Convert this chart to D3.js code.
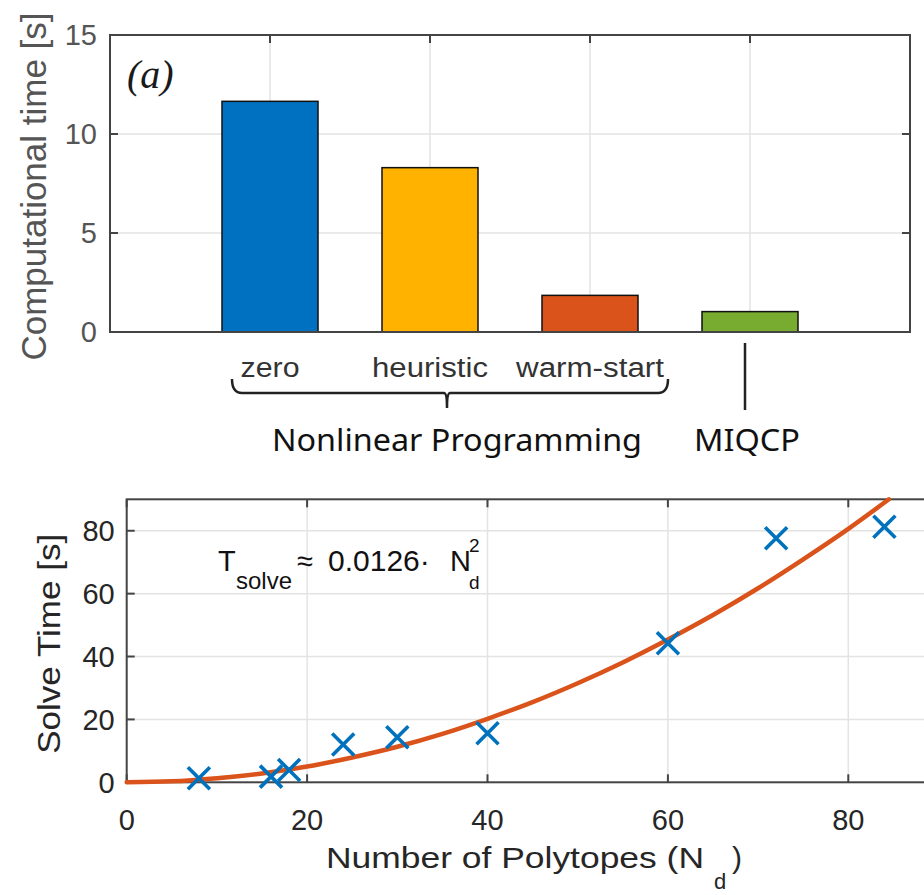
<!DOCTYPE html>
<html><head><meta charset="utf-8">
<script src="https://cdn.jsdelivr.net/npm/d3@7"></script>
<style>body{margin:0;background:#fff}svg{display:block}</style>
</head><body>
<svg id="c" width="924" height="895"></svg>
<script>
// ---- data: panel (a) ----
const categories = ["zero", "heuristic", "warm-start", "MIQCP"];
const compTime = [11.65, 8.3, 1.85, 1.03];
const barColors = ["#0070C0", "#FFB300", "#D9531A", "#77AC30"];
const yTicksTop = [0, 5, 10, 15];
// ---- data: panel (b) ----
const polytopes = [8, 16, 18, 24, 30, 40, 60, 72, 84];
const solveTime = [1.3, 1.8, 3.9, 12.0, 14.3, 15.6, 44.2, 77.6, 81.3];
const fitN = [0, 5, 10, 15, 20, 25, 30, 35, 40, 45, 50, 55, 60, 65, 70, 75, 80, 84.5];
const fitT = [0, 0.3, 1.3, 2.8, 5.0, 7.9, 11.3, 15.4, 20.2, 25.5, 31.5, 38.1, 45.4, 53.2, 61.7, 70.9, 80.6, 90.0];
const xTicksBot = [0, 20, 40, 60, 80];
const yTicksBot = [0, 20, 40, 60, 80];

const svg = d3.select("#c");
const lf = "Liberation Sans, Arial, sans-serif";

// ================= panel (a) =================
const A = {l: 110, r: 910, t: 35, b: 332};
const xa = d3.scaleLinear().domain([0, 5]).range([A.l, A.r]);
const ya = d3.scaleLinear().domain([0, 15]).range([A.b, A.t]);
const ga = svg.append("g");

// grid
ga.selectAll("line.gy").data(yTicksTop.filter(d => d > 0 && d < 15)).join("line")
  .attr("x1", A.l).attr("x2", A.r).attr("y1", d => ya(d)).attr("y2", d => ya(d))
  .attr("stroke", "#e3e3e3").attr("stroke-width", 1.5);
ga.selectAll("line.gx").data(categories).join("line")
  .attr("x1", (d, i) => xa(i + 1)).attr("x2", (d, i) => xa(i + 1))
  .attr("y1", A.t).attr("y2", A.b)
  .attr("stroke", "#e3e3e3").attr("stroke-width", 1.5);

// bars
const bw = xa(0.6) - xa(0);
ga.selectAll("rect.bar").data(compTime).join("rect")
  .attr("x", (d, i) => xa(i + 1) - bw / 2)
  .attr("width", bw)
  .attr("y", d => ya(d))
  .attr("height", d => ya(0) - ya(d))
  .attr("fill", (d, i) => barColors[i])
  .attr("stroke", "#111").attr("stroke-width", 1.5);

// axes box
const axA = ga.append("g").attr("fill", "none").attr("stroke", "#444").attr("stroke-width", 2);
axA.append("rect").attr("x", A.l).attr("y", A.t).attr("width", A.r - A.l).attr("height", A.b - A.t);
yTicksTop.forEach(v => {
  axA.append("line").attr("x1", A.l).attr("x2", A.l + 8).attr("y1", ya(v)).attr("y2", ya(v));
  axA.append("line").attr("x1", A.r).attr("x2", A.r - 8).attr("y1", ya(v)).attr("y2", ya(v));
});
categories.forEach((c, i) => {
  axA.append("line").attr("x1", xa(i + 1)).attr("x2", xa(i + 1)).attr("y1", A.t).attr("y2", A.t + 8);
});
// y tick labels
ga.selectAll("text.yt").data(yTicksTop).join("text")
  .attr("x", A.l - 13).attr("y", d => ya(d)).attr("dy", "0.36em")
  .attr("text-anchor", "end")
  .attr("font-family", lf).attr("font-size", 29)
  .attr("fill", "#555").text(d => d);
// y label
ga.append("text")
  .attr("transform", `translate(46,${(A.t + A.b) / 2 + 3}) rotate(-90)`)
  .attr("text-anchor", "middle")
  .attr("font-family", lf).attr("font-size", 35)
  .attr("fill", "#555")
  .attr("textLength", 348).attr("lengthAdjust", "spacingAndGlyphs")
  .text("Computational time [s]");
// (a)
ga.append("text").attr("x", 127).attr("y", 88)
  .attr("font-family", "Liberation Serif, serif").attr("font-style", "italic").attr("font-size", 40)
  .attr("fill", "#1a1a1a").text("(a)");

// category labels
const catLen = [59, 116, 148];
ga.selectAll("text.cat").data(categories.slice(0, 3)).join("text")
  .attr("x", (d, i) => xa(i + 1) - catLen[i] / 2).attr("y", 377)
  .attr("font-family", lf).attr("font-size", 27)
  .attr("textLength", (d, i) => catLen[i]).attr("lengthAdjust", "spacingAndGlyphs")
  .attr("fill", "#333").text(d => d);

// brace under NLP categories
const bx0 = 232, bx1 = 668, bmid = 447, by0 = 379, by1 = 393;
ga.append("path")
  .attr("d", `M${bx0},${by0} Q${bx0},${by1} ${bx0 + 10},${by1} L${bmid - 3},${by1} Q${bmid},${by1} ${bmid},${by1 + 15} Q${bmid},${by1} ${bmid + 3},${by1} L${bx1 - 10},${by1} Q${bx1},${by1} ${bx1},${by0}`)
  .attr("fill", "none").attr("stroke", "#222").attr("stroke-width", 2.5);
// MIQCP marker line
ga.append("line").attr("x1", xa(4) - 5).attr("x2", xa(4) - 5).attr("y1", 343).attr("y2", 410)
  .attr("stroke", "#222").attr("stroke-width", 2.5);
ga.append("text").attr("x", 272).attr("y", 451)
  .attr("font-family", "Noto Sans, Open Sans, sans-serif").attr("font-size", 31)
  .attr("fill", "#111").attr("textLength", 370).attr("lengthAdjust", "spacingAndGlyphs")
  .text("Nonlinear Programming");
ga.append("text").attr("x", 694).attr("y", 451)
  .attr("font-family", "Noto Sans, Open Sans, sans-serif").attr("font-size", 31)
  .attr("fill", "#111").attr("textLength", 106).attr("lengthAdjust", "spacingAndGlyphs")
  .text("MIQCP");

// ================= panel (b) =================
const B = {l: 126.7, t: 499.3, b: 782.3};
const xb = d3.scaleLinear().domain([0, 90]).range([B.l, B.l + 90 * 9.02]);
const yb = d3.scaleLinear().domain([0, 90]).range([B.b, B.t]);
const gb = svg.append("g");
const Br = xb(90);

// grid
gb.selectAll("line.gy").data(yTicksBot.filter(d => d > 0)).join("line")
  .attr("x1", B.l).attr("x2", Br).attr("y1", d => yb(d)).attr("y2", d => yb(d))
  .attr("stroke", "#e3e3e3").attr("stroke-width", 1.5);
gb.selectAll("line.gx").data(xTicksBot.filter(d => d > 0)).join("line")
  .attr("x1", d => xb(d)).attr("x2", d => xb(d)).attr("y1", B.t).attr("y2", B.b)
  .attr("stroke", "#e3e3e3").attr("stroke-width", 1.5);

// axes box
const axB = gb.append("g").attr("fill", "none").attr("stroke", "#444").attr("stroke-width", 2);
axB.append("rect").attr("x", B.l).attr("y", B.t).attr("width", Br - B.l).attr("height", B.b - B.t);
yTicksBot.forEach(v => {
  axB.append("line").attr("x1", B.l).attr("x2", B.l + 8).attr("y1", yb(v)).attr("y2", yb(v));
});
xTicksBot.forEach(v => {
  axB.append("line").attr("x1", xb(v)).attr("x2", xb(v)).attr("y1", B.b).attr("y2", B.b - 8);
  axB.append("line").attr("x1", xb(v)).attr("x2", xb(v)).attr("y1", B.t).attr("y2", B.t + 8);
});

// fit curve
const line = d3.line().x((d, i) => xb(fitN[i])).y(d => yb(d)).curve(d3.curveMonotoneX);
gb.append("path").datum(fitT).attr("d", line)
  .attr("fill", "none").attr("stroke", "#D9531A").attr("stroke-width", 4.5).attr("stroke-linecap", "round");

// x markers
const ms = 11;
const mk = gb.selectAll("g.mk").data(polytopes).join("g")
  .attr("transform", (d, i) => `translate(${xb(d)},${yb(solveTime[i])})`);
mk.append("path").attr("d", `M${-ms},${-ms}L${ms},${ms}M${-ms},${ms}L${ms},${-ms}`)
  .attr("stroke", "#0072BD").attr("stroke-width", 3.6).attr("fill", "none");

// tick labels
gb.selectAll("text.yt").data(yTicksBot).join("text")
  .attr("x", B.l - 12).attr("y", d => yb(d)).attr("dy", "0.36em").attr("text-anchor", "end")
  .attr("font-family", lf).attr("font-size", 29)
  .attr("fill", "#262626").text(d => d);
gb.selectAll("text.xt").data(xTicksBot).join("text")
  .attr("x", d => xb(d)).attr("y", 830).attr("text-anchor", "middle")
  .attr("font-family", lf).attr("font-size", 29)
  .attr("fill", "#262626").text(d => d);

// axis labels
gb.append("text")
  .attr("transform", `translate(60,${(B.t + B.b) / 2 + 3}) rotate(-90)`)
  .attr("text-anchor", "middle")
  .attr("font-family", lf).attr("font-size", 31)
  .attr("fill", "#262626").attr("textLength", 220).attr("lengthAdjust", "spacingAndGlyphs")
  .text("Solve Time [s]");
gb.append("text").attr("x", 326).attr("y", 868).attr("font-family", lf).attr("font-size", 30)
  .attr("fill", "#262626").attr("textLength", 378).attr("lengthAdjust", "spacingAndGlyphs")
  .text("Number of Polytopes (N");
gb.append("text").attr("x", 714).attr("y", 889).attr("font-family", lf).attr("font-size", 22)
  .attr("fill", "#262626").text("d");
gb.append("text").attr("x", 732).attr("y", 868).attr("font-family", lf).attr("font-size", 30)
  .attr("fill", "#262626").text(")");

// annotation
const ann = [
  {t: "T", x: 218, y: 571, s: 29},
  {t: "solve", x: 236, y: 589, s: 24},
  {t: "\u2248", x: 297, y: 571, s: 29},
  {t: "0.0126\u00b7", x: 328, y: 571, s: 30},
  {t: "N", x: 450, y: 571, s: 29},
  {t: "2", x: 469, y: 552, s: 19},
  {t: "d", x: 469, y: 589, s: 19}
];
gb.selectAll("text.ann").data(ann).join("text")
  .attr("x", d => d.x).attr("y", d => d.y).attr("font-size", d => d.s)
  .attr("font-family", lf).attr("fill", "#111").text(d => d.t);
</script>
</body></html>
